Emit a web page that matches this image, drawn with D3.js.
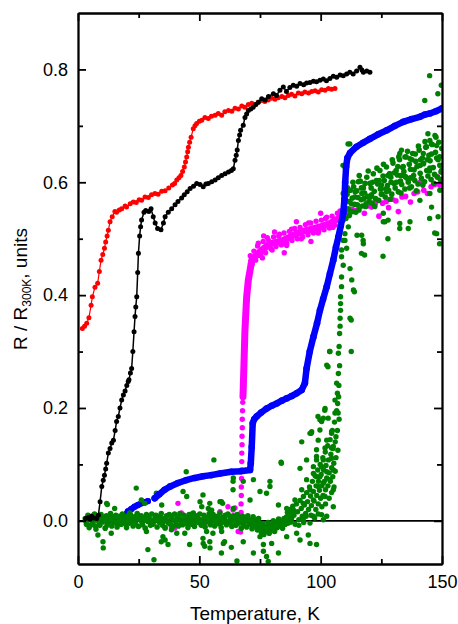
<!DOCTYPE html>
<html><head><meta charset="utf-8">
<script src="https://cdn.jsdelivr.net/npm/d3@7"></script>
<style>
body{margin:0;background:#fff;}
svg{display:block;font-family:"Liberation Sans",Arial,sans-serif;}
</style></head>
<body><svg id="c" width="458" height="624"></svg>
<script>
// ---------- axis ticks ----------
const xMajor = [0, 50, 100, 150];
const xMinor = [25, 75, 125];
const yMajor = [0, 0.2, 0.4, 0.6, 0.8];
const yMinor = [0.1, 0.3, 0.5, 0.7];
const xTitle = "Temperature, K";

// ---------- series (T [K], R/R300K) ----------
const redData = [[1.8,0.341],[2.7,0.345],[3.6,0.350],[4.5,0.360],[5.4,0.382],[5.9,0.397],[7.0,0.414],[8.1,0.421],[8.8,0.442],[9.5,0.462],[10.2,0.472],[10.9,0.483],[11.4,0.494],[12.0,0.505],[12.5,0.515],[13.2,0.530],[14.1,0.539],[15.2,0.548],[15.9,0.547],[17.0,0.551],[18.0,0.553],[19.4,0.558],[20.0,0.556],[21.5,0.562],[22.8,0.565],[24.0,0.564],[25.2,0.569],[26.2,0.568],[27.6,0.574],[29.0,0.573],[30.3,0.578],[31.7,0.580],[33.0,0.579],[34.5,0.584],[35.9,0.585],[37.4,0.590],[38.9,0.595],[39.8,0.598],[40.7,0.604],[41.6,0.608],[42.4,0.612],[43.1,0.619],[43.8,0.627],[44.3,0.636],[44.8,0.645],[45.2,0.654],[45.5,0.662],[46.0,0.671],[46.6,0.680],[47.5,0.695],[48.2,0.700],[48.9,0.704],[50.0,0.708],[51.0,0.710],[52.3,0.715],[53.7,0.713],[55.0,0.717],[56.5,0.719],[57.8,0.722],[59.2,0.719],[60.5,0.725],[62.0,0.727],[63.4,0.726],[64.7,0.731],[66.1,0.730],[67.5,0.735],[68.8,0.733],[70.2,0.738],[71.6,0.740],[73.0,0.738],[74.3,0.742],[75.7,0.745],[77.0,0.743],[78.4,0.746],[79.8,0.749],[81.2,0.747],[82.5,0.750],[84.0,0.752],[85.3,0.750],[86.7,0.754],[88.0,0.756],[89.4,0.753],[90.8,0.758],[92.2,0.757],[93.5,0.760],[95.0,0.758],[96.3,0.761],[97.7,0.762],[99.0,0.760],[100.4,0.764],[101.8,0.763],[103.2,0.766],[104.5,0.765],[105.9,0.766]];

const blackData = [[3.2,0.004],[4.3,0.006],[5.0,0.003],[5.6,0.008],[6.5,0.005],[7.7,0.004],[8.4,0.010],[9.1,0.034],[9.8,0.061],[10.4,0.072],[10.9,0.081],[11.4,0.092],[11.8,0.102],[12.5,0.120],[13.2,0.128],[13.9,0.138],[14.6,0.143],[15.3,0.160],[15.9,0.176],[16.6,0.185],[17.3,0.200],[18.0,0.214],[18.7,0.223],[19.4,0.230],[20.1,0.240],[20.7,0.247],[21.0,0.250],[21.6,0.262],[22.1,0.270],[22.6,0.300],[23.1,0.335],[23.5,0.362],[23.8,0.379],[24.2,0.397],[24.6,0.440],[24.9,0.474],[25.4,0.505],[25.8,0.521],[26.2,0.533],[27.2,0.547],[27.9,0.550],[29.2,0.548],[30.1,0.553],[31.0,0.539],[31.8,0.528],[32.8,0.518],[34.2,0.516],[35.2,0.528],[35.9,0.539],[37.2,0.547],[38.6,0.553],[40.0,0.560],[41.2,0.566],[42.7,0.572],[43.8,0.578],[45.0,0.583],[46.2,0.589],[47.6,0.593],[48.9,0.598],[50.3,0.596],[51.6,0.592],[52.7,0.597],[53.7,0.598],[55.1,0.601],[56.5,0.604],[57.8,0.608],[59.2,0.612],[60.6,0.615],[62.0,0.618],[63.2,0.621],[64.0,0.624],[64.7,0.639],[65.2,0.648],[65.6,0.657],[66.1,0.674],[66.6,0.684],[67.0,0.692],[68.1,0.701],[68.8,0.715],[69.5,0.721],[70.2,0.727],[71.2,0.730],[72.2,0.733],[73.3,0.738],[74.3,0.742],[75.7,0.748],[77.1,0.746],[78.5,0.752],[80.5,0.757],[81.8,0.754],[83.2,0.763],[84.6,0.769],[85.9,0.761],[87.3,0.768],[88.7,0.772],[90.1,0.770],[91.5,0.775],[93.0,0.773],[94.2,0.776],[95.6,0.777],[97.0,0.779],[98.3,0.778],[99.7,0.781],[101.1,0.783],[102.4,0.780],[103.8,0.784],[105.2,0.788],[106.6,0.786],[108.0,0.790],[109.3,0.789],[110.7,0.792],[112.0,0.795],[113.4,0.792],[114.8,0.797],[116.2,0.804],[117.0,0.799],[117.6,0.795],[119.0,0.797],[120.3,0.795]];

const blueLow = [[13.5,0.001],[16.0,0.003],[18.0,0.005],[19.5,0.010],[20.6,0.017],[22.0,0.021],[23.3,0.025],[24.7,0.028],[26.1,0.031],[27.5,0.033],[28.8,0.035]];
const blueHigh = [[31.6,0.040],[33.5,0.047],[35.7,0.055],[38.0,0.061],[41.2,0.067],[44.5,0.072],[48.1,0.076],[51.5,0.079],[54.9,0.081],[58.5,0.084],[63.2,0.087],[67.0,0.088],[70.9,0.090],[71.2,0.102],[71.6,0.131],[72.0,0.173],[72.6,0.180],[73.6,0.185],[75.5,0.192],[77.7,0.199],[79.8,0.204],[81.9,0.208],[84.0,0.213],[86.0,0.217],[88.0,0.221],[90.1,0.226],[92.2,0.232],[93.5,0.244],[94.2,0.270],[95.5,0.300],[97.0,0.326],[98.5,0.350],[99.7,0.373],[101.0,0.393],[102.5,0.415],[103.8,0.438],[105.2,0.462],[106.3,0.485],[107.3,0.503],[108.3,0.523],[109.3,0.545],[109.8,0.570],[110.1,0.600],[110.5,0.628],[111.0,0.643],[112.1,0.652],[114.8,0.663],[117.5,0.670],[120.3,0.677],[123.7,0.685],[127.2,0.692],[130.6,0.700],[134.0,0.707],[137.5,0.712],[140.9,0.716],[143.0,0.720],[145.0,0.722],[147.5,0.726],[150.0,0.731]];

const magentaDots = [[38.5,-0.012],[39.8,-0.013],[41.2,0.031],[42.6,0.014],[43.5,0.010],[45.0,-0.005],[47.0,0.012],[50.0,0.003],[52.0,-0.008],[55.0,0.010],[58.5,0.016],[61.8,0.025],[63.9,0.019],[64.7,0.023],[66.0,-0.019],[67.0,-0.020],[67.1,0.000],[67.2,0.015],[67.2,0.030],[67.3,0.045],[67.3,0.060],[67.4,0.075],[67.4,0.090],[67.5,0.105],[67.5,0.120],[67.6,0.135],[67.6,0.150],[67.7,0.165],[67.7,0.180],[67.8,0.195],[67.9,0.210],
[71.0,0.470],[71.8,0.455],[72.5,0.478],[73.2,0.462],[74.3,0.492],[75.3,0.470],[76.3,0.495],[77.3,0.475],[78.4,0.498],[79.5,0.482],[80.6,0.503],[81.6,0.486],[82.7,0.505],[83.8,0.489],[84.9,0.510],[86.0,0.492],[87.1,0.513],[88.2,0.497],[89.3,0.518],[90.4,0.500],[91.5,0.520],[92.6,0.503],[93.7,0.525],[94.8,0.507],[95.9,0.528],[97.0,0.510],[98.1,0.531],[99.2,0.513],[100.3,0.533],[101.4,0.516],[102.5,0.538],[103.6,0.519],[104.7,0.540],[105.8,0.524],[106.9,0.545],[108.0,0.530],[109.0,0.550],[76.5,0.505],[81.0,0.512],[85.0,0.475],[90.0,0.530],[96.0,0.495],[100.0,0.545],
[72.5,0.468],[74.0,0.487],[76.0,0.466],[78.0,0.502],[80.0,0.480],[83.0,0.508],[86.0,0.488],[88.0,0.517],[92.0,0.500],[95.0,0.528],[99.0,0.510],[102.0,0.536],[105.0,0.520],[108.0,0.549]];
const magentaBand = [[68.0,0.220],[68.4,0.279],[68.8,0.338],[69.5,0.397],[70.2,0.427],[70.9,0.444],[71.6,0.462],[73.6,0.471],[75.0,0.477],[77.0,0.484],[79.1,0.491],[82.0,0.494],[84.6,0.497],[87.3,0.503],[90.1,0.509],[93.5,0.514],[97.0,0.518],[100.4,0.522],[103.8,0.527],[107.0,0.535],[110.7,0.545]];
const magentaTail = [[111.5,0.548],[113.0,0.552],[114.5,0.550],[116.0,0.556],[118.0,0.545],[119.5,0.558],[121.0,0.556],[122.5,0.562],[124.0,0.540],[125.5,0.563],[127.0,0.566],[128.0,0.555],[129.5,0.570],[131.0,0.567],[132.0,0.548],[133.5,0.574],[135.0,0.575],[137.0,0.565],[138.5,0.580],[140.0,0.583],[141.0,0.600],[142.5,0.586],[144.0,0.580],[145.5,0.592],[147.0,0.596],[148.0,0.610],[149.0,0.595],[149.8,0.602]];

const greenCore = [[3.0,0.004],[3.5,-0.006],[4.1,0.010],[4.6,-0.012],[5.1,0.002],[5.7,0.008],[6.2,-0.004],[6.8,0.012],[7.3,-0.010],[7.9,0.001],[8.4,0.007],[9.0,-0.008],[9.5,0.011],[10.1,-0.002],[10.6,0.005],[11.2,-0.013],[11.7,0.009],[12.3,-0.005],[12.8,0.003],[13.4,0.013],[13.9,-0.009],[14.5,0.006],[15.0,-0.003],[15.6,0.010],[16.1,-0.011],[16.7,0.002],[17.2,0.008],[17.8,-0.006],[18.3,0.012],[18.9,-0.002],[19.4,0.005],[20.0,-0.012],[20.5,0.009],[21.1,-0.004],[21.6,0.011],[22.2,0.000],[22.7,-0.009],[23.3,0.007],[23.8,-0.005],[24.4,0.013],[24.9,-0.010],[25.5,0.003],[26.0,0.009],[26.6,-0.007],[27.1,0.005],[27.7,-0.013],[28.2,0.011],[28.8,-0.001],[29.3,0.006],[29.9,-0.008],[30.4,0.012],[31.0,-0.004],[31.5,0.002],[32.1,0.010],[32.6,-0.011],[33.2,0.007],[33.7,-0.003],[34.3,0.013],[34.8,-0.008],[35.4,0.004],[35.9,-0.012],[36.5,0.009],[37.0,0.000],[37.6,0.011],[38.1,-0.006],[38.7,0.005],[39.2,-0.010],[39.8,0.012],[40.3,-0.002],[40.9,0.007],[41.4,-0.009],[42.0,0.013],[42.5,0.001],[43.1,-0.007],[43.6,0.010],[44.2,-0.004],[44.7,0.006],[45.3,-0.012],[45.8,0.011],[46.4,0.003],[46.9,-0.006],[47.5,0.014],[48.0,-0.010],[48.6,0.005],[49.1,0.009],[49.7,-0.003],[50.2,0.012],[50.8,-0.008],[51.3,0.002],[51.9,0.010],[52.4,-0.011],[53.0,0.006],[53.5,-0.002],[54.1,0.013],[54.6,-0.007],[55.2,0.004],[55.7,0.011],[56.3,-0.009],[56.8,0.001],[57.4,0.008],[57.9,-0.005],[58.5,0.014],[59.0,-0.012],[59.6,0.006],[60.1,0.000],[60.7,0.010],[61.2,-0.007],[61.8,0.012],[62.3,-0.003],[62.9,0.005],[63.4,-0.010],[64.0,0.009],[64.5,0.002],[65.1,-0.008],[65.6,0.011],[66.2,-0.004],[66.7,0.006],[67.3,-0.013],[67.8,0.008],[68.4,-0.001],[68.9,0.004],[69.5,-0.011],[70.0,0.009],[70.6,-0.006],[71.1,0.002],[71.7,-0.014],[72.2,0.007],[72.8,-0.009],[73.3,0.000],[73.9,-0.016],[74.4,0.004],[75.0,-0.012],[75.5,-0.020],[76.1,-0.005],[76.6,-0.024],[77.2,-0.010],[77.7,-0.018],[78.3,-0.003],[78.8,-0.022],[79.4,-0.008],[79.9,-0.015],[80.5,0.000],[81.0,-0.019],[81.6,-0.006],[82.1,-0.012],[82.7,0.003],[83.2,-0.009],[83.8,-0.002],[84.3,-0.013],[84.9,0.004],[85.4,-0.006],[86.0,0.007],[86.5,-0.004],[87.1,0.010],[87.6,-0.002],[88.2,0.012],
[3.3,-0.001],[4.4,0.005],[5.5,-0.007],[6.5,0.003],[7.6,0.009],[8.7,-0.004],[9.8,0.006],[10.9,0.001],[12.0,-0.008],[13.1,0.005],[14.2,0.000],[15.3,0.007],[16.4,-0.005],[17.5,0.003],[18.6,0.006],[19.7,-0.006],[20.8,0.002],[21.9,0.006],[23.0,-0.003],[24.1,0.004],[25.2,0.007],[26.3,-0.002],[27.4,0.001],[28.5,0.005],[29.6,0.001],[30.7,-0.006],[31.8,0.006],[32.9,0.000],[34.0,0.004],[35.1,-0.003],[36.2,0.002],[37.3,-0.004],[38.4,0.008],[39.5,0.001],[40.6,-0.006],[41.7,0.004],[42.8,-0.003],[43.9,0.003],[45.0,0.000],[46.1,-0.004],[47.2,0.006],[48.3,-0.002],[49.4,0.003],[50.5,0.000],[51.6,-0.005],[52.7,0.002],[53.8,0.007],[54.9,-0.002],[56.0,0.003],[57.1,-0.004],[58.2,0.004],[59.3,-0.003],[60.4,0.005],[61.5,-0.001],[62.6,0.008],[63.7,-0.002],[64.8,0.003],[65.9,-0.001],[67.0,0.001],[68.1,-0.006],[69.2,0.006],[70.3,-0.002],[71.4,-0.005],[72.5,0.002],[73.6,-0.008],[74.7,-0.004],[75.8,-0.013],[76.9,-0.016],[78.0,-0.011],[79.1,-0.014],[80.2,-0.007],[81.3,-0.012],[82.4,-0.004],[83.5,-0.007],[84.6,-0.001],[85.7,0.001],[86.8,0.003],[87.9,0.004]];

const greenLowOut = [[7.4,-0.015],[8.2,-0.025],[10.3,-0.037],[10.4,-0.048],[11.8,0.031],[12.1,0.029],[13.7,-0.022],[15.1,0.022],[21.3,0.014],[24.0,0.058],[26.1,0.037],[27.5,0.031],[28.2,-0.019],[28.8,-0.051],[31.3,-0.069],[32.3,0.049],[34.3,-0.037],[34.5,0.028],[35.0,-0.028],[35.9,-0.034],[35.9,-0.013],[37.1,-0.042],[38.5,-0.016],[40.7,-0.022],[43.3,0.052],[44.0,-0.022],[44.6,0.087],[44.8,0.043],[46.0,-0.042],[50.3,0.034],[51.0,0.025],[51.5,0.046],[51.5,-0.031],[51.6,-0.040],[52.2,-0.045],[53.0,-0.019],[53.7,0.022],[54.3,0.031],[54.3,-0.037],[54.4,-0.048],[55.1,0.019],[55.6,-0.022],[56.0,0.108],[58.5,0.034],[59.1,0.034],[59.1,-0.057],[59.2,-0.019],[59.6,0.031],[59.9,-0.040],[60.4,-0.037],[63.2,-0.047],[63.9,0.070],[63.9,0.055],[64.0,0.076],[64.0,0.022],[65.5,-0.071],[68.1,0.070],[68.1,-0.037],[70.9,0.037],[72.3,0.073],[72.3,-0.057],[75.0,0.052],[75.0,-0.028],[76.4,-0.042],[76.4,-0.054],[77.7,0.049],[77.7,-0.063],[78.4,-0.072],[79.1,0.070],[79.1,0.061],[79.8,-0.040],[82.6,0.028],[82.6,-0.057],[83.7,0.104],[83.8,0.102],[86.0,-0.028],[90.1,-0.022],[91.5,-0.034],[92.8,0.002],[94.9,-0.025],[95.6,-0.040],[95.6,-0.004],[97.0,0.008],[98.3,-0.042],[100.4,0.011],[101.1,0.002],[102.5,0.008]];

const greenRise = [[86.3,0.015],[86.9,-0.003],[87.4,0.020],[88.0,0.004],[88.5,0.026],[89.0,0.010],[89.5,-0.006],[90.0,0.030],[90.5,0.016],[91.0,0.002],[91.5,0.036],[92.0,0.022],[92.4,0.008],[92.9,0.043],[93.3,0.028],[93.8,0.013],[94.2,0.050],[94.6,0.034],[95.0,0.020],[95.4,0.060],[95.8,0.044],[96.2,0.027],[96.6,0.070],[97.0,0.052],[97.3,0.035],[97.7,0.080],[98.1,0.062],[98.4,0.045],[98.8,0.090],[99.1,0.070],[99.5,0.054],[99.8,0.100],[100.2,0.082],[100.5,0.062],[100.9,0.112],[101.2,0.090],[101.5,0.070],[101.9,0.122],[102.2,0.098],[102.5,0.076],[102.9,0.133],[103.2,0.108],[103.5,0.085],[103.9,0.144],[104.2,0.118],[104.5,0.094],[104.8,0.160],[105.1,0.128],[105.4,0.102],[105.7,0.175],[106.0,0.140],[106.3,0.112],[106.6,0.195],[106.9,0.160],[107.1,0.125],[107.4,0.220],[107.6,0.180],[96.0,0.010],[98.0,0.020],[99.0,0.030],[100.0,0.040],[101.0,0.045],[102.0,0.055],[103.0,0.062],[104.0,0.070],[105.0,0.078],[106.0,0.088],[105.5,0.060],[104.5,0.050],[103.5,0.040],[102.0,0.030],[100.5,0.025],[99.0,0.012],[97.5,0.005],[94.0,0.008],[93.0,-0.003],[91.0,-0.008],[89.0,0.018],[87.0,0.005],
[92.2,0.140],[95.6,0.155],[98.3,0.126],[100.4,0.176],[101.8,0.199],[99.7,0.161],[102.5,0.143],[103.1,0.182],[104.5,0.158],[105.9,0.191],[105.9,0.214],[91.5,0.093],[94.2,0.108],[97.0,0.096],[98.3,0.108],[101.1,0.108],[102.5,0.087],[104.5,0.111],[105.2,0.090],[103.8,0.073],[105.2,0.055],[105.2,0.025],[101.8,0.043],[99.0,0.061],[95.6,0.055],[92.2,0.055],[89.4,0.037],[88.7,0.019],[86.0,0.022],[92.8,0.031],[97.0,0.037],[99.7,0.078],[104.5,0.129],[106.3,0.149],[98.3,0.078],[94.2,0.073],[101.1,0.067],[96.1,0.155],[98.9,0.185],[101.7,0.196],[103.0,0.273],[103.7,0.300],[102.5,0.276],[101.1,0.182],[99.7,0.179],[96.3,0.158],[99.0,0.143],[101.8,0.129],[98.3,0.114],[104.5,0.155],[105.2,0.132],[97.0,0.084],[100.4,0.096]];

const greenColumn = [[106.6,0.244],[106.9,0.226],[107.0,0.208],[107.2,0.191],[107.3,0.261],[107.3,0.297],[107.6,0.309],[107.8,0.332],[108.0,0.359],[108.2,0.373],[108.2,0.385],[108.2,0.397],[108.6,0.415],[108.6,0.432],[109.3,0.453],[108.6,0.468],[108.6,0.480],[109.3,0.497],[110.0,0.509],[111.4,0.521],[109.3,0.533],[107.8,0.275],[107.5,0.240],[108.0,0.345],[112.6,0.356],[112.6,0.300],[112.1,0.447],[112.8,0.427],[113.5,0.409],[113.9,0.406],[112.1,0.359],[103.8,0.300],[116.9,0.506],[117.6,0.491],[125.7,0.469],[118.1,0.471],[125.8,0.545],[126.5,0.530]];

const greenHigh = [[109.5,0.548],[110.0,0.568],[110.4,0.536],[110.9,0.579],[111.3,0.553],[111.8,0.541],[112.2,0.586],[112.7,0.562],[113.1,0.548],[113.6,0.592],[114.0,0.561],[114.5,0.547],[114.9,0.585],[115.4,0.573],[115.8,0.551],[116.3,0.602],[116.7,0.569],[117.2,0.558],[117.6,0.590],[118.1,0.581],[118.5,0.557],[119.0,0.609],[119.4,0.575],[119.9,0.566],[120.3,0.598],[120.8,0.590],[121.2,0.563],[121.7,0.615],[122.1,0.584],[122.6,0.571],[123.0,0.603],[123.5,0.597],[123.9,0.568],[124.4,0.621],[124.8,0.589],[125.3,0.579],[125.7,0.611],[126.2,0.603],[126.6,0.574],[127.1,0.627],[127.5,0.594],[128.0,0.586],[128.4,0.615],[128.9,0.609],[129.3,0.579],[129.8,0.634],[130.2,0.598],[130.7,0.590],[131.1,0.621],[131.6,0.613],[132.0,0.583],[132.5,0.640],[132.9,0.602],[133.4,0.596],[133.8,0.626],[134.3,0.619],[134.7,0.588],[135.2,0.645],[135.6,0.607],[136.1,0.600],[136.5,0.632],[137.0,0.623],[137.4,0.592],[137.9,0.651],[138.3,0.612],[138.8,0.603],[139.2,0.637],[139.7,0.628],[140.1,0.597],[140.6,0.657],[141.0,0.616],[141.5,0.607],[141.9,0.643],[142.4,0.633],[142.8,0.601],[143.3,0.662],[143.7,0.621],[144.2,0.611],[144.6,0.648],[145.1,0.638],[145.5,0.605],[146.0,0.667],[146.4,0.626],[146.9,0.614],[147.3,0.653],[147.8,0.643],[148.2,0.609],[148.7,0.671],[149.1,0.630],[149.6,0.618],[113.0,0.572],[117.0,0.580],[121.0,0.578],[125.0,0.595],[129.0,0.600],[133.0,0.612],[137.0,0.608],[141.0,0.630],[145.0,0.625],[149.0,0.645],
[110.3,0.552],[111.0,0.590],[111.6,0.566],[112.4,0.548],[113.3,0.600],[114.2,0.583],[115.1,0.560],[115.9,0.612],[116.8,0.590],[117.8,0.571],[118.7,0.562],[119.6,0.620],[120.5,0.574],[121.4,0.600],[122.3,0.557],[123.2,0.625],[124.1,0.603],[125.0,0.579],[125.9,0.632],[126.8,0.588],[127.7,0.612],[128.6,0.570],[129.5,0.640],[130.4,0.617],[131.3,0.600],[132.2,0.645],[133.1,0.581],[134.0,0.628],[134.9,0.610],[135.8,0.655],[136.7,0.590],[137.6,0.640],[138.5,0.622],[139.4,0.585],[140.3,0.664],[141.2,0.640],[142.1,0.595],[143.0,0.672],[143.9,0.640],[144.8,0.620],[145.7,0.650],[146.6,0.598],[147.5,0.680],[148.4,0.640],[149.3,0.605],[149.9,0.660],[139.0,0.650],[131.8,0.628],[124.6,0.588],[118.3,0.598]];

const greenHighOut = [[144.9,0.789],[149.7,0.772],[148.3,0.757],[142.9,0.745],[111.3,0.668],[112.0,0.668],[109.2,0.630],[110.0,0.627],[115.5,0.601],[109.3,0.580],[114.1,0.574],[125.8,0.530],[127.8,0.533],[127.7,0.500],[132.6,0.527],[136.8,0.530],[136.1,0.518],[132.6,0.518],[147.8,0.509],[148.4,0.539],[144.9,0.536],[147.0,0.510],[149.0,0.491],[145.7,0.556],[145.0,0.580],[140.9,0.568],[134.0,0.612],[133.3,0.657],[132.6,0.651],[134.7,0.645],[136.8,0.642],[136.8,0.607],[144.2,0.686],[145.6,0.668],[145.0,0.674],[147.1,0.683],[147.8,0.665],[143.6,0.663],[142.3,0.651],[128.5,0.615],[127.2,0.583],[117.5,0.497],[116.8,0.474],[110.0,0.497],[110.7,0.483],[115.0,0.506],[149.8,0.621],[149.1,0.586]];

// ---------- drawing ----------
const L = 78, R = 442, T = 13, B = 564;
const svg = d3.select("#c");
const x = d3.scaleLinear().domain([0, 150]).range([L, R]);
const y = d3.scaleLinear().domain([-0.0765, 0.9]).range([B, T]);

svg.append("defs").append("clipPath").attr("id", "pc")
  .append("rect").attr("x", L).attr("y", T).attr("width", R - L).attr("height", B - T);
const g = svg.append("g").attr("clip-path", "url(#pc)");

// zero line
g.append("line").attr("x1", x(0)).attr("x2", x(150)).attr("y1", y(0)).attr("y2", y(0))
  .attr("stroke", "#000").attr("stroke-width", 1.6);

const line = d3.line().x(d => x(d[0])).y(d => y(d[1]));
function dots(data, color, r) {
  g.append("g").selectAll("circle").data(data).join("circle")
    .attr("cx", d => x(d[0])).attr("cy", d => y(d[1])).attr("r", r).attr("fill", color);
}
function path(data, color, w) {
  g.append("path").datum(data).attr("d", line).attr("fill", "none")
    .attr("stroke", color).attr("stroke-width", w)
    .attr("stroke-linejoin", "round").attr("stroke-linecap", "round");
}

// magenta
path(magentaBand, "#ff00ff", 7);
dots(magentaDots, "#ff00ff", 2.7);
dots(magentaTail, "#ff00ff", 2.8);

// blue (low part lies under the green cloud)
path(blueLow, "#0000ff", 6);
dots(blueLow, "#0000ff", 3.2);

// green
const green = "#008000";
dots(greenCore, green, 2.8);
dots(greenLowOut, green, 2.7);
dots(greenRise, green, 2.7);
dots(greenColumn, green, 2.7);
dots(greenHigh, green, 2.8);
dots(greenHighOut, green, 2.7);

// blue main
path(blueHigh, "#0000ff", 6.5);
dots(blueHigh, "#0000ff", 3.3);

// red
path(redData, "#ff0000", 1.2);
dots(redData, "#ff0000", 2.5);

// black
path(blackData, "#000", 1.5);
dots(blackData, "#000", 2.5);

// ---------- axes ----------
const fmt = d3.format(".1f");
function styleAxis(sel) {
  sel.selectAll("path.domain").attr("stroke", "#000").attr("stroke-width", 1.8);
  sel.selectAll(".tick line").attr("stroke", "#000").attr("stroke-width", 1.8);
  sel.selectAll("text").attr("font-size", 18).attr("fill", "#000")
    .attr("font-family", "'Liberation Sans', Arial, sans-serif");
}
const axB = svg.append("g").attr("transform", `translate(0,${B})`)
  .call(d3.axisBottom(x).tickValues(xMajor).tickSize(-8).tickSizeOuter(0).tickPadding(11).tickFormat(d3.format("d")));
styleAxis(axB);
const axBm = svg.append("g").attr("transform", `translate(0,${B})`)
  .call(d3.axisBottom(x).tickValues(xMinor).tickSize(-5).tickSizeOuter(0).tickFormat(""));
styleAxis(axBm);
const axT = svg.append("g").attr("transform", `translate(0,${T})`)
  .call(d3.axisTop(x).tickValues(xMajor).tickSize(-8).tickSizeOuter(0).tickFormat(""));
styleAxis(axT);
const axTm = svg.append("g").attr("transform", `translate(0,${T})`)
  .call(d3.axisTop(x).tickValues(xMinor).tickSize(-5).tickSizeOuter(0).tickFormat(""));
styleAxis(axTm);
const axL = svg.append("g").attr("transform", `translate(${L},0)`)
  .call(d3.axisLeft(y).tickValues(yMajor).tickSize(-8).tickSizeOuter(0).tickPadding(10).tickFormat(fmt));
styleAxis(axL);
const axLm = svg.append("g").attr("transform", `translate(${L},0)`)
  .call(d3.axisLeft(y).tickValues(yMinor).tickSize(-5).tickSizeOuter(0).tickFormat(""));
styleAxis(axLm);
const axR = svg.append("g").attr("transform", `translate(${R},0)`)
  .call(d3.axisRight(y).tickValues(yMajor).tickSize(-8).tickSizeOuter(0).tickFormat(""));
styleAxis(axR);
const axRm = svg.append("g").attr("transform", `translate(${R},0)`)
  .call(d3.axisRight(y).tickValues(yMinor).tickSize(-5).tickSizeOuter(0).tickFormat(""));
styleAxis(axRm);

// titles
svg.append("text").attr("x", 255).attr("y", 620).attr("text-anchor", "middle")
  .attr("font-size", 19).text(xTitle);
const yt = svg.append("text").attr("transform", "translate(27,289) rotate(-90)")
  .attr("text-anchor", "middle").attr("font-size", 19);
yt.append("tspan").text("R / R");
yt.append("tspan").attr("font-size", 12).attr("dy", 4).text("300K");
yt.append("tspan").attr("dy", -4).text(", units");
</script></body></html>
